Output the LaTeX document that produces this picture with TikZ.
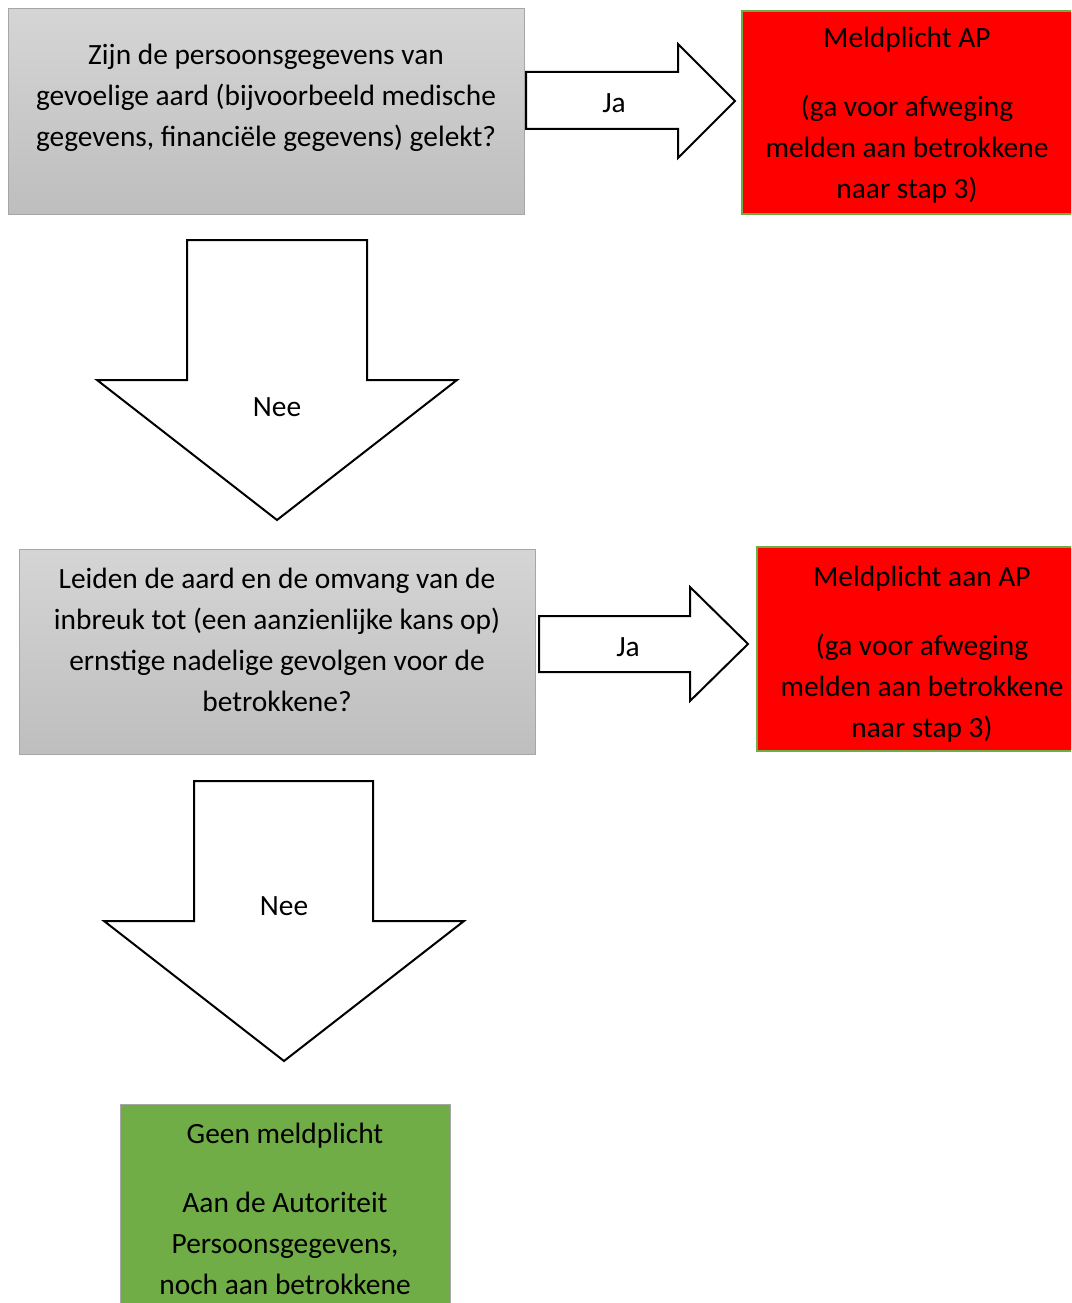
\documentclass[tikz,border=0pt]{standalone}
\usepackage{fontspec}
\setmainfont{Carlito}
\definecolor{boxgreyT}{HTML}{D5D5D5}
\definecolor{boxgreyB}{HTML}{BEBEBE}
\definecolor{boxedge}{HTML}{A6A6A6}
\definecolor{okgreen}{HTML}{70AD47}
\definecolor{alarmred}{HTML}{FF0000}
\tikzset{
  qbox/.style={draw=boxedge, line width=1pt, top color=boxgreyT, bottom color=boxgreyB},
  redbox/.style={draw=okgreen, line width=1.5pt, fill=alarmred},
  greenbox/.style={draw=boxedge, line width=1pt, fill=okgreen},
  blockarrow/.style={draw=black, line width=2pt, fill=white, line join=miter},
  txt/.style={anchor=base, inner sep=0pt, font=\fontsize{29.4}{41}\selectfont},
}
\begin{document}
\begin{tikzpicture}[x=1pt,y=-1pt]
\useasboundingbox (0,0) rectangle (1071,1303);
\clip (0,0) rectangle (1071,1303);
\fill[white] (0,0) rectangle (1071,1303);

% boxes
\path[qbox] (8,9) rectangle (524,214);
\path[redbox] (742,11) rectangle (1090,214);
\path[qbox] (19,549) rectangle (535,754);
\path[redbox] (757,547) rectangle (1090,751);
\path[greenbox] (120,1104) rectangle (450,1320);

% block arrows
\draw[blockarrow] (526,72) -- (678,72) -- (678,44) -- (735,101) -- (678,158) -- (678,129) -- (526,129) -- cycle;
\draw[blockarrow] (187,240) -- (367,240) -- (367,380) -- (457,380) -- (277,520) -- (97,380) -- (187,380) -- cycle;
\draw[blockarrow] (539,616) -- (690,616) -- (690,587) -- (748,644) -- (690,701) -- (690,672) -- (539,672) -- cycle;
\draw[blockarrow] (194,781) -- (373,781) -- (373,921) -- (464,921) -- (284,1061) -- (104,921) -- (194,921) -- cycle;

% texts
\node[txt] (t1) at (266,65) {\parbox[t]{700pt}{\centering Zijn de persoonsgegevens van\\ gevoelige aard (bijvoorbeeld medische\\ gegevens, financiële gegevens) gelekt?}};
\node[txt] (r1) at (907,48) {\parbox[t]{400pt}{\centering Meldplicht AP\\[28pt] (ga voor afweging\\ melden aan betrokkene\\ naar stap 3)}};
\node[txt] (ja1) at (614,113) {Ja};
\node[txt] (nee1) at (277,416) {Nee};
\node[txt] (t2) at (277,588) {\parbox[t]{700pt}{\centering Leiden de aard en de omvang van de\\ inbreuk tot (een aanzienlijke kans op)\\ ernstige nadelige gevolgen voor de\\ betrokkene?}};
\node[txt] (r2) at (922,586) {\parbox[t]{400pt}{\centering Meldplicht aan AP\\[28pt] (ga voor afweging\\ melden aan betrokkene\\ naar stap 3)}};
\node[txt] (ja2) at (628,656) {Ja};
\node[txt] (nee2) at (284,915) {Nee};
\node[txt] (g) at (285,1143) {\parbox[t]{400pt}{\centering Geen meldplicht\\[28pt] Aan de Autoriteit\\ Persoonsgegevens,\\ noch aan betrokkene}};
\end{tikzpicture}
\end{document}
